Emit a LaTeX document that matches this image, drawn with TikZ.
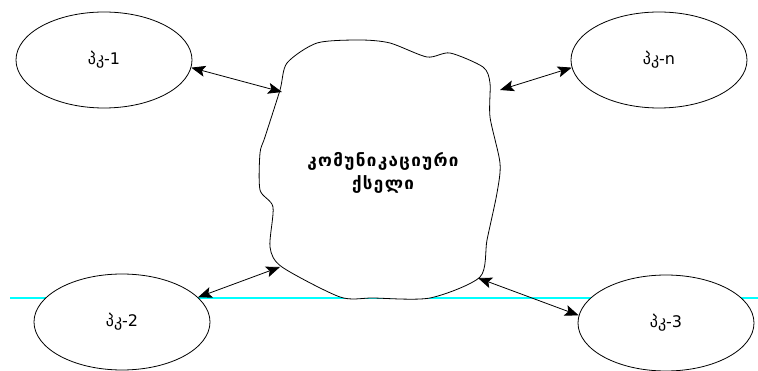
\documentclass[tikz,border=0pt]{standalone}
\usepackage{fontspec}
\usetikzlibrary{arrows.meta}
\usetikzlibrary{shapes.geometric}
\tikzset{>={Stealth[width=11pt,length=14pt,inset=3pt]}}
\newfontfamily\geofont{DejaVu Sans}
\newfontfamily\geowide[LetterSpace=8]{DejaVu Sans}
\definecolor{netcyan}{HTML}{00FFFF}
\tikzset{pc/.style={draw, ellipse, fill=white, minimum width=176pt,
    minimum height=96pt, inner sep=0pt, font=\geofont\fontsize{16}{18}\selectfont}}

\begin{document}
\begin{tikzpicture}[x=1pt,y=-1pt,line width=0.8pt]
  \useasboundingbox (0,0) rectangle (758,371);

  %% horizontal rule behind everything
  \draw[color=netcyan, line width=1.6pt] (10,298) -- (758,298);

  %% the network cloud
  \draw[fill=white] plot[smooth cycle, tension=0.45] coordinates {
    (317,43) (360,40) (390,43) (427,57) (450,53) (483,67) (490,83)
    (490,117) (500,163) (497,193) (487,240) (480,277) (430,298)
    (373,298) (340,297) (282,267) (270,247) (273,207) (260,190)
    (260,153) (265,137) (280,90) (287,63)};
  \node[font=\geowide\bfseries\fontsize{17}{23}\selectfont, align=center]
    (net) at (383,173) {კომუნიკაციური\\ქსელი};

  \coordinate (c1) at (282,92);
  \coordinate (cn) at (500,90);
  \coordinate (c2) at (280,267);
  \coordinate (c3) at (478,278);

  %% computers
  \node[pc] (pc1) at (104,60) {პკ-1};
  \node[pc] (pcn) at (659,60) {პკ-n};
  \node[pc] (pc2) at (122,322) {პკ-2};
  \node[pc] (pc3) at (666,323) {პკ-3};

  \draw[<->] (pc1.-5) -- (c1); %% 1 -> net
  \draw[<->] (cn) -- (pcn.185); %% net -> n
  \draw[<->] (pc2.18) -- (c2); %% 2 -> net
  \draw[<->] (c3) -- (pc3.175); %% net -> 3

\end{tikzpicture}
\end{document}
